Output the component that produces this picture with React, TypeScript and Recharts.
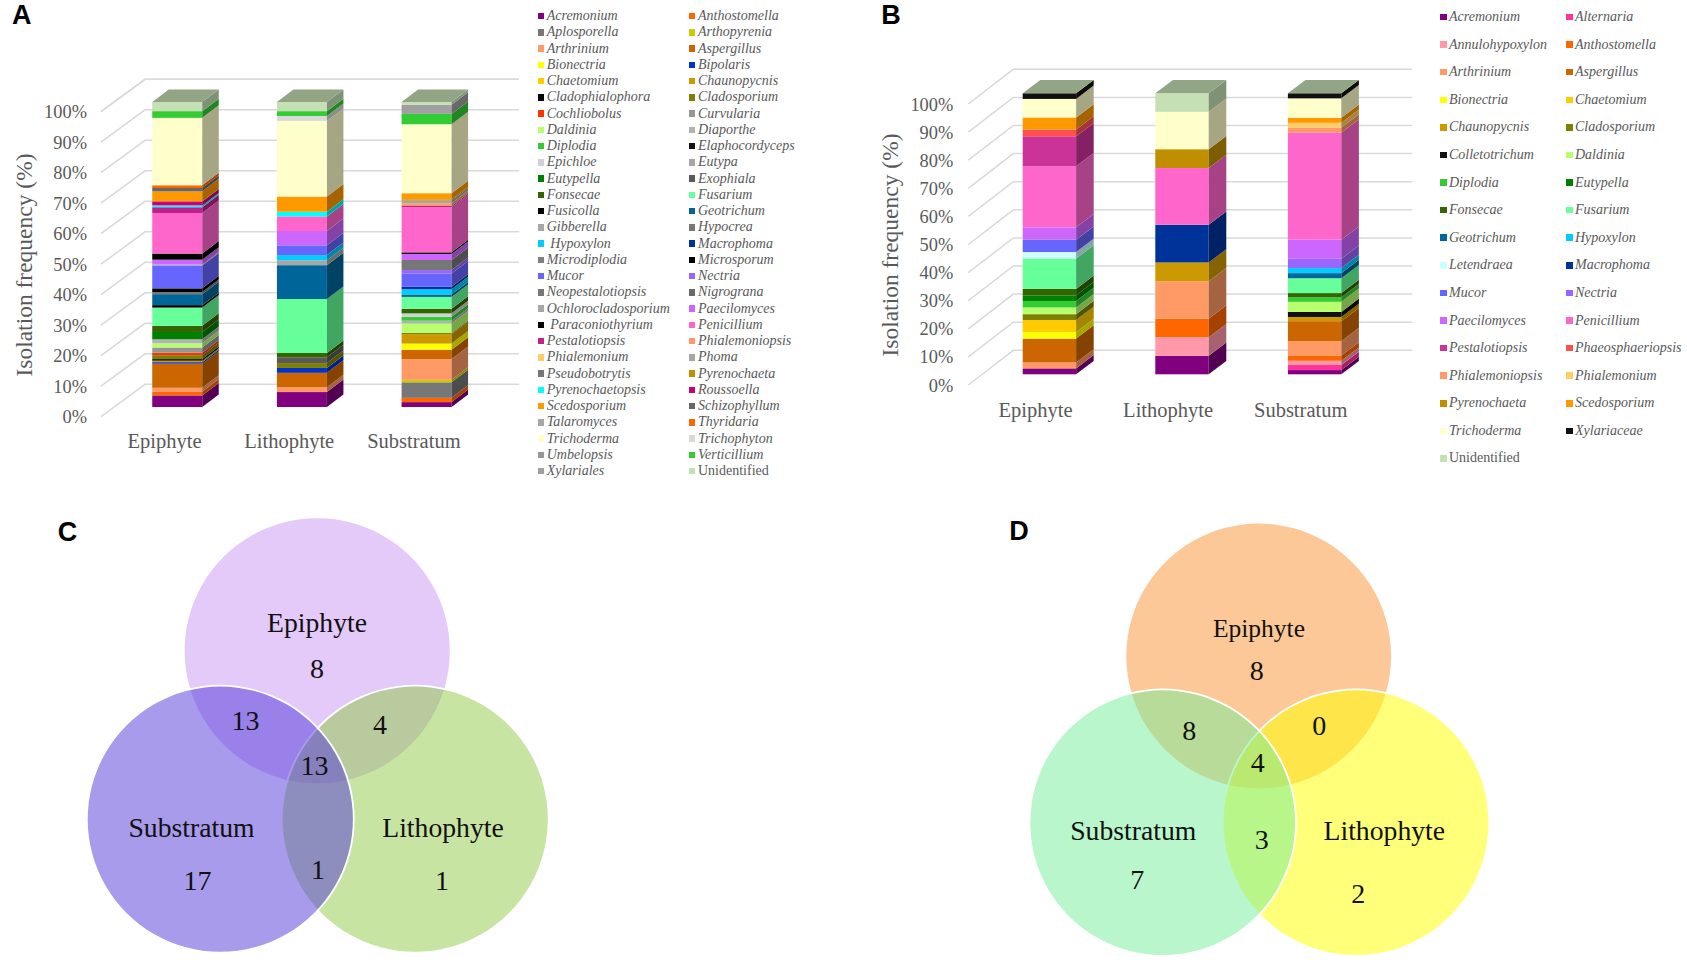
import { BarChart, Bar, XAxis, YAxis, CartesianGrid, Legend, PieChart, Pie } from "recharts";

const WIDTH = 1687;
const HEIGHT = 963;
const SERIF = '"Liberation Serif", serif';
const GREY = "#595959";

const habitats = ["Epiphyte", "Lithophyte", "Substratum"];
const percentTicks = [0, 10, 20, 30, 40, 50, 60, 70, 80, 90, 100];

// panel A
const speciesA = [
  "Acremonium", "Anthostomella", "Aplosporella", "Arthopyrenia", "Arthrinium", "Aspergillus", "Bionectria", "Bipolaris", "Chaetomium", "Chaunopycnis",
  "Cladophialophora", "Cladosporium", "Cochliobolus", "Curvularia", "Daldinia", "Diaporthe", "Diplodia", "Elaphocordyceps", "Epichloe", "Eutypa",
  "Eutypella", "Exophiala", "Fonsecae", "Fusarium", "Fusicolla", "Geotrichum", "Gibberella", "Hypocrea", " Hypoxylon", "Macrophoma",
  "Microdiplodia", "Microsporum", "Mucor", "Nectria", "Neopestalotiopsis", "Nigrograna", "Ochlorocladosporium", "Paecilomyces", " Paraconiothyrium", "Penicillium",
  "Pestalotiopsis", "Phialemoniopsis", "Phialemonium", "Phoma", "Pseudobotrytis", "Pyrenochaeta", "Pyrenochaetopsis", "Roussoella", "Scedosporium", "Schizophyllum",
  "Talaromyces", "Thyridaria", "Trichoderma", "Trichophyton", "Umbelopsis", "Verticillium", "Xylariales", "Unidentified",
];
const colorsA = [
  "#800080", "#ff6600", "#777777", "#cccc00", "#ff9966", "#cc6600", "#ffff00", "#0033cc", "#ffcc00", "#cc9900",
  "#000000", "#808000", "#ff3300", "#969696", "#b7ff6f", "#b2b2b2", "#33cc33", "#111111", "#d0d0d8", "#a6a6a6",
  "#008000", "#595959", "#336600", "#66ff99", "#000000", "#006699", "#a6a6a6", "#777777", "#00ccff", "#003399",
  "#808080", "#000000", "#6666ff", "#9966ff", "#777777", "#696969", "#a6a6a6", "#cc66ff", "#000000", "#ff66cc",
  "#c0208c", "#ff9966", "#ffcc66", "#a6a6a6", "#777777", "#bf8f00", "#00ffff", "#c8007c", "#ff9900", "#666666",
  "#a6a6a6", "#ff6600", "#ffffcc", "#d9d9d9", "#969696", "#33cc33", "#a0a0a0", "#c5e0b4",
];
const epiphyteA = [
  3.8, 1.3, 0, 0, 1.2, 7.9, 0, 0.5, 0, 0.5,
  0.5, 1.3, 0.8, 1.7, 1.4, 1.3, 0, 0, 0, 0,
  2.4, 0, 2, 6, 0.8, 3.6, 0, 0.7, 0, 0,
  0, 1.2, 7.5, 0, 0, 0, 0.3, 1.6, 2, 13.3,
  1.9, 0, 0, 0, 0, 0, 0.6, 1.3, 3.3, 1.1,
  0, 0.9, 22.1, 0, 0, 2.2, 0, 3,
];
const lithophyteA = [
  4.9, 0, 0, 0, 1.6, 4.7, 0, 1.6, 0, 0,
  0, 1.6, 0, 0, 0, 0, 0, 0, 0, 0,
  0, 1.9, 1.4, 17.7, 0, 11.1, 1.6, 0, 1.7, 0,
  0, 0, 3.2, 0, 0, 0, 0, 4.7, 0, 4.8,
  0, 0, 0, 0, 0, 0, 1.5, 0, 5, 0,
  0, 0, 24.8, 1.6, 0, 1.6, 0, 3,
];
const substratumA = [
  1.6, 1.4, 5.1, 0.8, 6.8, 3.1, 2, 0, 0, 3.1,
  0, 0.4, 0, 0, 3.1, 0.9, 1.3, 0, 1.1, 0,
  0, 0, 1.5, 3.9, 0, 0.8, 0, 0, 1.7, 0.8,
  0, 0, 4.4, 1.1, 3.3, 0, 0, 2, 0.5, 14.8,
  0.4, 0.9, 0, 0.9, 0, 0.4, 0, 0, 2, 0,
  0, 0, 22.6, 0, 0, 3.4, 3, 0.9,
];

// panel B
const speciesB = [
  "Acremonium", "Alternaria", "Annulohypoxylon", "Anthostomella", "Arthrinium", "Aspergillus", "Bionectria", "Chaetomium", "Chaunopycnis", "Cladosporium",
  "Colletotrichum", "Daldinia", "Diplodia", "Eutypella", "Fonsecae", "Fusarium", "Geotrichum", "Hypoxylon", "Letendraea", "Macrophoma",
  "Mucor", "Nectria", "Paecilomyces", "Penicillium", "Pestalotiopsis", "Phaeosphaeriopsis", "Phialemoniopsis", "Phialemonium", "Pyrenochaeta", "Scedosporium",
  "Trichoderma", "Xylariaceae", "Unidentified",
];
const colorsB = [
  "#800080", "#ff3399", "#ff99aa", "#ff6600", "#ff9966", "#cc6600", "#ffff00", "#ffcc00", "#cc9900", "#808000",
  "#111111", "#b7ff6f", "#33cc33", "#008000", "#336600", "#66ff99", "#006699", "#00ccff", "#ccffff", "#003399",
  "#6666ff", "#9966ff", "#cc66ff", "#ff66cc", "#cc3399", "#ff5050", "#ff9966", "#ffcc66", "#bf8f00", "#ff9900",
  "#ffffcc", "#111111", "#c5e0b4",
];
const epiphyteB = [
  2.1, 0, 0, 0, 2.1, 8.5, 2.3, 4.3, 0, 2.1,
  0, 2.4, 2.3, 2, 2.3, 10.8, 0, 0, 2.3, 0,
  4.4, 0, 4.4, 21.7, 10.7, 2.4, 0, 0, 0, 4.3,
  6.6, 2, 0,
];
const lithophyteB = [
  6.6, 0, 6.6, 6.6, 13.3, 0, 0, 0, 6.7, 0,
  0, 0, 0, 0, 0, 0, 0, 0, 0, 13.4,
  0, 0, 0, 20.2, 0, 0, 0, 0, 6.7, 0,
  13.3, 0, 6.6,
];
const substratumB = [
  1.5, 1.8, 1.5, 1.9, 5.1, 7.1, 0, 0, 1.5, 0,
  1.8, 3.6, 1.6, 0, 1.5, 5.3, 1.8, 1.8, 0, 0,
  0, 3.3, 6.8, 38.1, 0, 0, 1.8, 1.7, 0, 1.8,
  6.9, 1.8, 0,
];

// venn counts: only E, E+S, E+L, all, only S, S+L, only L
const vennCountsC = [8, 13, 4, 13, 17, 1, 1];
const vennCountsD = [8, 8, 0, 4, 7, 3, 2];

const shade = (hex: string, k: number) => {
  const n = parseInt(hex.slice(1), 16);
  const c = [(n >> 16) & 255, (n >> 8) & 255, n & 255].map((v) => Math.round(v * k));
  return `rgb(${c[0]},${c[1]},${c[2]})`;
};

function StackedPanel({ letter, letterPos, species, colors, values, g }: any) {
  const rows = habitats.map((category, i) => {
    const row: any = { category };
    species.forEach((_: string, s: number) => {
      row[`s${s}`] = values[i][s];
    });
    return row;
  });

  const gridLine = (p: any) => {
    const y = p.y1;
    return (
      <g key={p.key ?? y} stroke="#d9d9d9" strokeWidth={1.5} fill="none">
        <polyline
          points={`${g.wallLeft},${y + g.floorDrop} ${g.wallBack},${y - g.wallRise} ${g.gridEnd},${y - g.wallRise}`}
        />
      </g>
    );
  };

  const bar3d = (s: number) => (p: any) => {
    const { x, y, width, height } = p;
    const last = s === species.length - 1;
    if (!last && !(height > 0)) return <g />;
    const c = colors[s];
    return (
      <g>
        {height > 0 && <rect x={x} y={y} width={width} height={height} fill={c} />}
        {height > 0 && (
          <polygon
            points={`${x + width},${y} ${x + width + g.dx},${y - g.dy} ${x + width + g.dx},${y + height - g.dy} ${x + width},${y + height}`}
            fill={shade(c, 0.65)}
          />
        )}
        {last && (
          <polygon
            points={`${x},${y} ${x + g.dx},${y - g.dy} ${x + width + g.dx},${y - g.dy} ${x + width},${y}`}
            fill={shade(c, 0.74)}
          />
        )}
      </g>
    );
  };

  const keyContent = () => (
    <div
      style={{
        position: "absolute",
        left: g.keyLeft,
        top: g.keyTop,
        display: "grid",
        gridTemplateColumns: `${g.keyCol}px ${g.keyCol}px`,
        gridAutoRows: `${g.keyRow}px`,
        font: `italic 14px ${SERIF}`,
        color: GREY,
        whiteSpace: "pre",
      }}
    >
      {species.map((name: string, s: number) => (
        <div key={name} style={{ display: "flex", alignItems: "center" }}>
          <span style={{ width: 6.5, height: 6.5, background: colors[s], marginRight: 2.5, flex: "none" }} />
          <span style={name === "Unidentified" ? { fontStyle: "normal" } : undefined}>{name}</span>
        </div>
      ))}
    </div>
  );

  return (
    <div style={{ position: "absolute", left: 0, top: 0 }}>
      <BarChart
        width={WIDTH}
        height={HEIGHT}
        data={rows}
        margin={{ left: g.plotLeft - 1, right: WIDTH - g.plotRight, top: g.top, bottom: HEIGHT - g.bottom - 1 }}
      >
        <CartesianGrid vertical={false} horizontal={gridLine} />
        <XAxis
          dataKey="category"
          height={1}
          axisLine={false}
          tickLine={false}
          interval={0}
          tick={(p: any) => (
            <text x={p.x + g.labelShift} y={g.catY} textAnchor="middle" dominantBaseline="central" fontFamily={SERIF} fontSize={20.5} fill={GREY}>
              {p.payload.value}
            </text>
          )}
        />
        <YAxis
          type="number"
          domain={[0, 100]}
          ticks={percentTicks}
          width={1}
          axisLine={false}
          tickLine={false}
          interval={0}
          tick={(p: any) => (
            <text x={g.tickRight} y={p.y + g.tickDrop} textAnchor="end" dominantBaseline="central" fontFamily={SERIF} fontSize={18.4} fill={GREY}>
              {p.payload.value}%
            </text>
          )}
        />
        <Legend content={keyContent} wrapperStyle={{ left: 0, top: 0, bottom: "auto", width: 0, height: 0 }} />
        {species.map((name: string, s: number) => (
          <Bar
            key={name}
            dataKey={`s${s}`}
            name={name}
            stackId="all"
            barSize={g.barWidth}
            fill={colors[s]}
            isAnimationActive={false}
            shape={bar3d(s)}
          />
        ))}
        <text
          transform={`translate(${g.titleX},${g.titleY}) rotate(-90)`}
          textAnchor="middle"
          dominantBaseline="central"
          fontFamily={SERIF}
          fontSize={23.5}
          fill={GREY}
        >
          Isolation frequency (%)
        </text>
        <text x={letterPos[0]} y={letterPos[1]} textAnchor="middle" dominantBaseline="central" fontFamily='"Liberation Sans", sans-serif' fontWeight="bold" fontSize={27} fill="#000">
          {letter}
        </text>
      </BarChart>
    </div>
  );
}

function VennPanel({ letter, letterPos, counts, circles, nameSpots, countSpots, epiphyteSize }: any) {
  const setSizes = [
    counts[0] + counts[1] + counts[2] + counts[3],
    counts[2] + counts[3] + counts[5] + counts[6],
    counts[1] + counts[3] + counts[4] + counts[5],
  ];
  return (
    <div style={{ position: "absolute", left: 0, top: 0 }}>
      <PieChart width={WIDTH} height={HEIGHT} margin={{ left: 0, right: 0, top: 0, bottom: 0 }}>
        {circles.flatMap((c: any, i: number) => [
          <Pie
            key={`fill-${i}`}
            data={[{ name: c.name, value: setSizes[i] }]}
            dataKey="value"
            cx={c.x}
            cy={c.y}
            innerRadius={0}
            outerRadius={c.r}
            startAngle={90}
            endAngle={450}
            stroke="none"
            fill={c.fill}
            fillOpacity={c.alpha}
            isAnimationActive={false}
            label={false}
            labelLine={false}
          />,
          <Pie
            key={`ring-${i}`}
            data={[{ name: c.name, value: setSizes[i] }]}
            dataKey="value"
            cx={c.x}
            cy={c.y}
            innerRadius={c.r - 0.9}
            outerRadius={c.r + 0.9}
            startAngle={90}
            endAngle={450}
            stroke="none"
            fill="#ffffff"
            isAnimationActive={false}
            label={false}
            labelLine={false}
          />,
        ])}
      </PieChart>
      {/* the pies sit on a higher layer inside the chart, so the words go in their own svg on top */}
      <svg width={WIDTH} height={HEIGHT} style={{ position: "absolute", left: 0, top: 0 }}>
        {nameSpots.map((t: any) => (
          <text key={t.name} x={t.x} y={t.y} textAnchor="middle" dominantBaseline="central" fontFamily={SERIF} fontSize={t.name === "Epiphyte" ? epiphyteSize : 27.7} fill="#111">
            {t.name}
          </text>
        ))}
        {counts.map((v: number, i: number) => (
          <text key={i} x={countSpots[i][0]} y={countSpots[i][1]} textAnchor="middle" dominantBaseline="central" fontFamily={SERIF} fontSize={28} fill="#111">
            {v}
          </text>
        ))}
        <text x={letterPos[0]} y={letterPos[1]} textAnchor="middle" dominantBaseline="central" fontFamily='"Liberation Sans", sans-serif' fontWeight="bold" fontSize={27} fill="#000">
          {letter}
        </text>
      </svg>
    </div>
  );
}

const geomA = {
  plotLeft: 115.25, plotRight: 489.25, top: 102, bottom: 407, barWidth: 50, dx: 16.5, dy: 12.5,
  wallLeft: 101, wallBack: 145, wallRise: 22.7, floorDrop: 9.7, gridEnd: 519,
  tickRight: 87, tickDrop: 10, catY: 441, labelShift: -13, titleX: 24, titleY: 265,
  keyLeft: 537.7, keyTop: 7.9, keyCol: 151.3, keyRow: 16.25,
};
const geomB = {
  plotLeft: 982.7, plotRight: 1380.5, top: 93.3, bottom: 374.3, barWidth: 53.4, dx: 17.6, dy: 13.3,
  wallLeft: 968.3, wallBack: 1013.3, wallRise: 24, floorDrop: 10.7, gridEnd: 1412.3,
  tickRight: 953.3, tickDrop: 11.2, catY: 410, labelShift: -13.5, titleX: 890, titleY: 245,
  keyLeft: 1440, keyTop: 3.2, keyCol: 126, keyRow: 27.6,
};

const circlesC = [
  { name: "Epiphyte", x: 317.2, y: 650.8, r: 133.5, fill: "#c795f3", alpha: 0.5 },
  { name: "Lithophyte", x: 415.2, y: 819.2, r: 133.5, fill: "#91c945", alpha: 0.5 },
  { name: "Substratum", x: 220.3, y: 819.2, r: 133.5, fill: "#5137d9", alpha: 0.5 },
];
const circlesD = [
  { name: "Epiphyte", x: 1258.7, y: 656, r: 133.3, fill: "#fb9131", alpha: 0.5 },
  { name: "Lithophyte", x: 1356, y: 822.7, r: 133.3, fill: "#ffff00", alpha: 0.52 },
  { name: "Substratum", x: 1162.7, y: 822.7, r: 133.3, fill: "#73ed99", alpha: 0.5 },
];
const namesC = [
  { name: "Epiphyte", x: 317, y: 622.7 },
  { name: "Substratum", x: 191.5, y: 827.3 },
  { name: "Lithophyte", x: 443, y: 827.3 },
];
const namesD = [
  { name: "Epiphyte", x: 1259, y: 628.7 },
  { name: "Substratum", x: 1133.3, y: 830.7 },
  { name: "Lithophyte", x: 1384.3, y: 830.7 },
];
const spotsC = [[317, 668.3], [245.6, 720], [380, 724], [314.5, 765.7], [197.4, 880.5], [318, 869], [442, 880.5]];
const spotsD = [[1256.7, 670], [1189.3, 730], [1319.3, 725], [1257.7, 762.3], [1137.3, 879], [1261.7, 839.3], [1358.3, 893.3]];

export default function App() {
  return (
    <div style={{ position: "absolute", left: 0, top: 0, width: WIDTH, height: HEIGHT, background: "#fff", overflow: "hidden" }}>
      <StackedPanel letter="A" letterPos={[21.7, 15]} species={speciesA} colors={colorsA} values={[epiphyteA, lithophyteA, substratumA]} g={geomA} />
      <StackedPanel letter="B" letterPos={[891, 15]} species={speciesB} colors={colorsB} values={[epiphyteB, lithophyteB, substratumB]} g={geomB} />
      <VennPanel letter="C" letterPos={[67.5, 531.7]} counts={vennCountsC} circles={circlesC} nameSpots={namesC} countSpots={spotsC} epiphyteSize={27.7} />
      <VennPanel letter="D" letterPos={[1019, 530.7]} counts={vennCountsD} circles={circlesD} nameSpots={namesD} countSpots={spotsD} epiphyteSize={25.5} />
    </div>
  );
}
